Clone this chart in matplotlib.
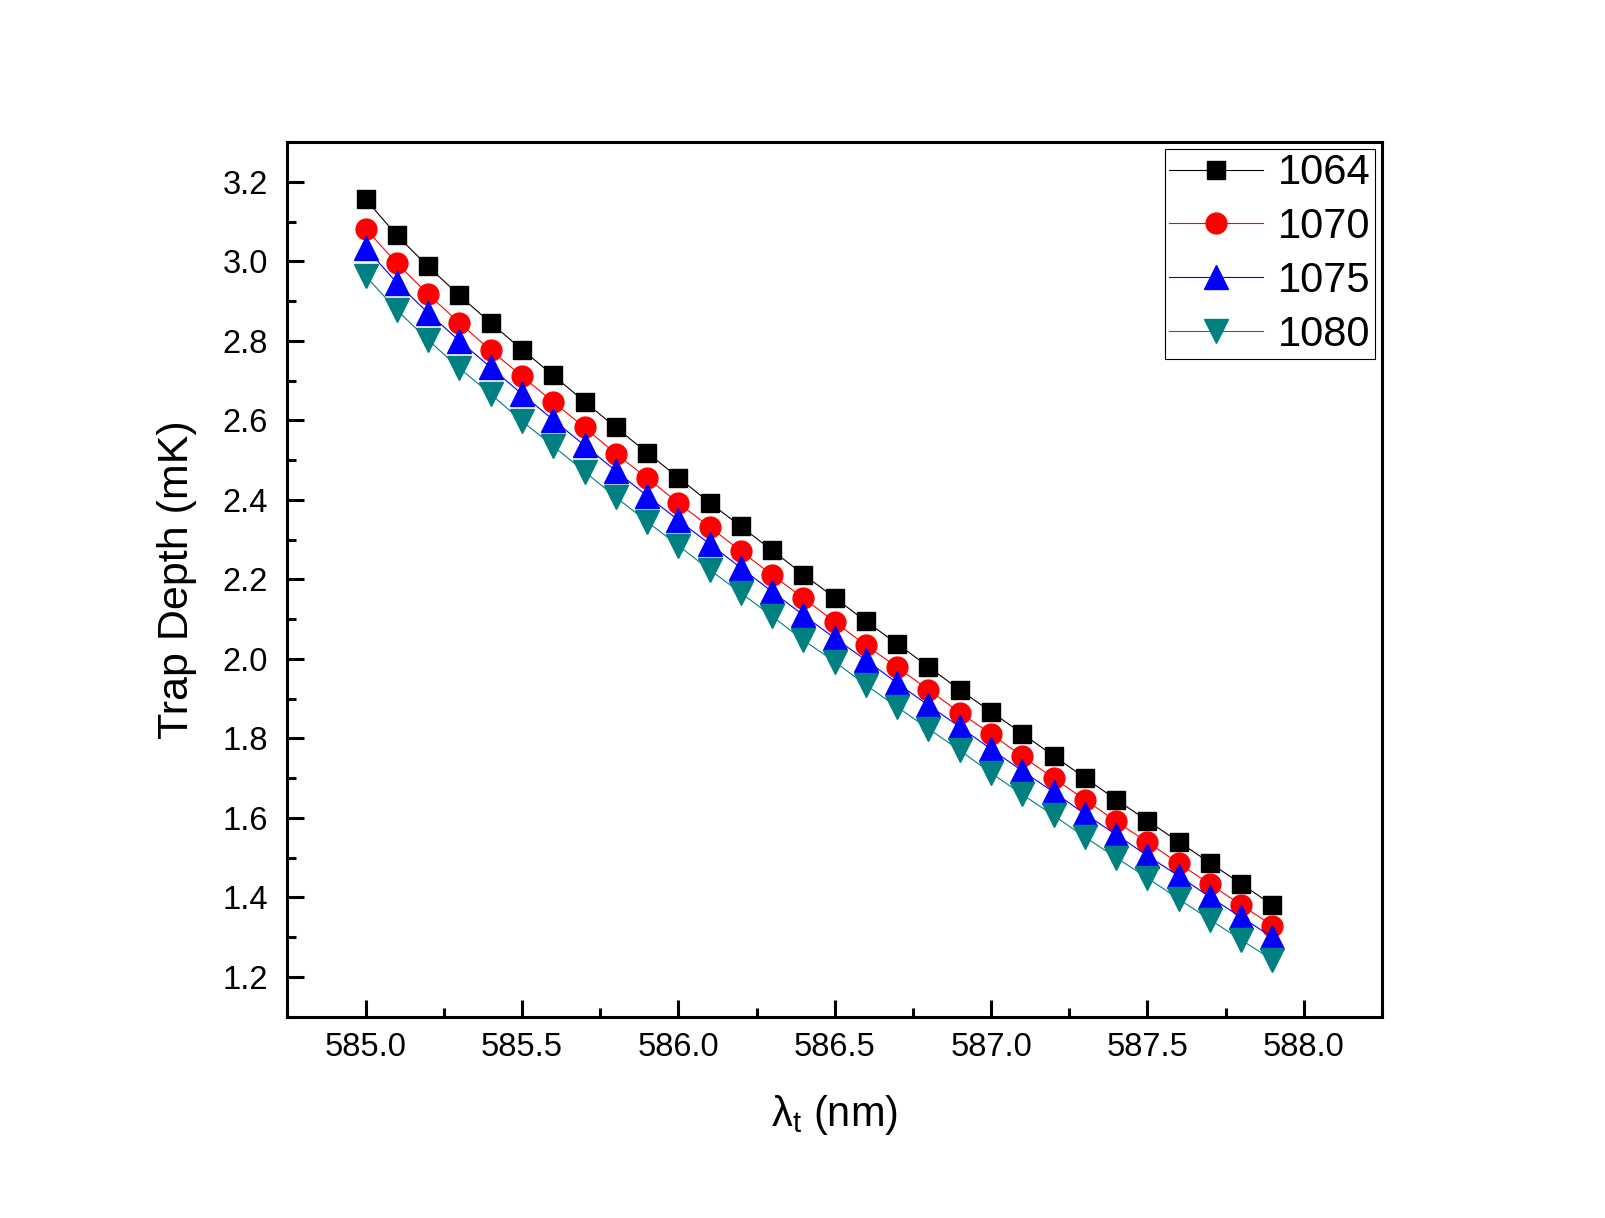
import numpy as np
import matplotlib
matplotlib.use('Agg')
import matplotlib.pyplot as plt
from matplotlib.ticker import MultipleLocator

plt.rcParams['font.family'] = ['Liberation Sans', 'DejaVu Sans']
plt.rcParams['mathtext.fontset'] = 'custom'
plt.rcParams['mathtext.rm'] = 'Liberation Sans'
plt.rcParams['mathtext.it'] = 'Liberation Sans'

# wavelength of the tuning laser (nm)
wl = [585.0, 585.1, 585.2, 585.3, 585.4, 585.5, 585.6, 585.7, 585.8, 585.9,
      586.0, 586.1, 586.2, 586.3, 586.4, 586.5, 586.6, 586.7, 586.8, 586.9,
      587.0, 587.1, 587.2, 587.3, 587.4, 587.5, 587.6, 587.7, 587.8, 587.9]

# trap depth (mK) for each trapping wavelength
depth_1064 = [3.156, 3.065, 2.987, 2.914, 2.845, 2.778, 2.713, 2.647, 2.582, 2.519,
              2.456, 2.393, 2.333, 2.273, 2.212, 2.154, 2.094, 2.038, 1.980, 1.922,
              1.867, 1.812, 1.756, 1.701, 1.646, 1.593, 1.540, 1.487, 1.434, 1.381]
depth_1070 = [3.082, 2.995, 2.917, 2.845, 2.776, 2.711, 2.646, 2.582, 2.516, 2.455,
              2.392, 2.332, 2.271, 2.211, 2.153, 2.093, 2.034, 1.979, 1.922, 1.865,
              1.811, 1.755, 1.700, 1.646, 1.591, 1.539, 1.486, 1.433, 1.381, 1.329]
depth_1075 = [3.034, 2.946, 2.870, 2.800, 2.733, 2.666, 2.601, 2.537, 2.473, 2.410,
              2.349, 2.289, 2.229, 2.169, 2.110, 2.052, 1.997, 1.939, 1.883, 1.829,
              1.773, 1.718, 1.665, 1.610, 1.558, 1.505, 1.454, 1.401, 1.350, 1.300]
depth_1080 = [2.963, 2.877, 2.802, 2.731, 2.666, 2.598, 2.535, 2.471, 2.407, 2.345,
              2.285, 2.224, 2.166, 2.107, 2.047, 1.993, 1.934, 1.879, 1.824, 1.770,
              1.713, 1.659, 1.606, 1.552, 1.500, 1.449, 1.396, 1.344, 1.293, 1.243]

labels = ['1064', '1070', '1075', '1080']

fig = plt.figure(figsize=(16.05, 12.18), dpi=100)
ax = fig.add_axes([0.1791, 0.1653, 0.6819, 0.7181])

ax.plot(wl, depth_1064, '-s', color='black', lw=0.8, ms=13.5, label=labels[0])
ax.plot(wl, depth_1070, '-o', color='#ff0000', lw=0.8, ms=15, label=labels[1])
ax.plot(wl, depth_1075, '-^', color='#0000ff', lw=0.8, ms=17, label=labels[2])
ax.plot(wl, depth_1080, '-v', color='#008080', lw=0.8, ms=17, label=labels[3])

ax.set_xlim(584.75, 588.25)
ax.set_ylim(1.1, 3.3)
ax.xaxis.set_major_locator(MultipleLocator(0.5))
ax.xaxis.set_minor_locator(MultipleLocator(0.25))
ax.yaxis.set_major_locator(MultipleLocator(0.2))
ax.yaxis.set_minor_locator(MultipleLocator(0.1))
ax.xaxis.set_major_formatter(matplotlib.ticker.FormatStrFormatter('%.1f'))
ax.yaxis.set_major_formatter(matplotlib.ticker.FormatStrFormatter('%.1f'))

for s in ax.spines.values():
    s.set_linewidth(2.2)
ax.tick_params(which='both', direction='in', top=False, right=False, width=2.2)
ax.tick_params(which='major', length=12.5, labelsize=23.5)
ax.tick_params(axis='x', which='major', pad=11)
ax.tick_params(axis='y', which='major', pad=14)
ax.tick_params(which='minor', length=6.5)

ax.set_xlabel(r'$\mathregular{\lambda_t}$ (nm)', fontsize=30, labelpad=22)
ax.set_ylabel('Trap Depth (mK)', fontsize=31, labelpad=18)

leg = ax.legend(loc='upper right', fontsize=30, numpoints=1, fancybox=False,
                edgecolor='black', framealpha=1, handlelength=2.25,
                handletextpad=0.36, labelspacing=0.33, borderpad=0.1,
                borderaxespad=0.17)
leg.get_frame().set_linewidth(0.8)

fig.savefig('out.png', dpi=100)
